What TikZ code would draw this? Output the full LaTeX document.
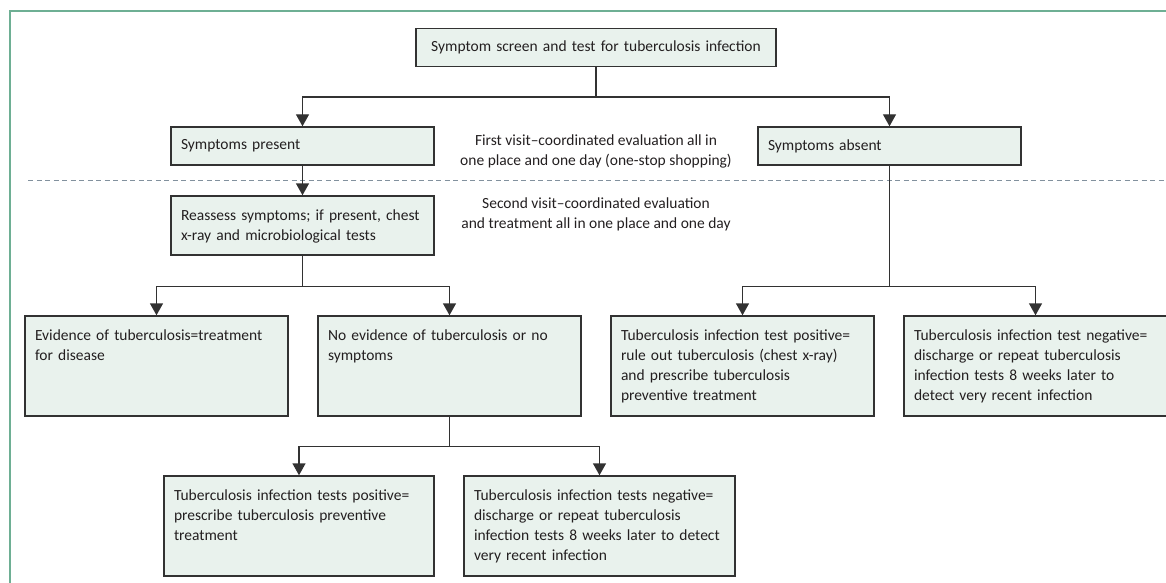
\documentclass[tikz,border=0pt]{standalone}
\usepackage{fontspec}
\setmainfont{Carlito}
\usetikzlibrary{arrows.meta}
\definecolor{boxfill}{RGB}{233,242,237}
\definecolor{boxline}{RGB}{50,50,50}
\definecolor{inktext}{RGB}{35,31,32}
\definecolor{framegreen}{RGB}{110,175,148}
\definecolor{dashgray}{RGB}{130,145,158}
\begin{document}
\begin{tikzpicture}[x=1pt, y=-1pt,
  font=\fontsize{15.5}{20}\selectfont, text=inktext,
  flowbox/.style={draw=boxline, fill=boxfill, line width=1.4pt, inner xsep=10pt, inner ysep=11pt, align=left, text width=243pt},
  onebox/.style={flowbox, minimum height=38pt},
  tallbox/.style={flowbox, text height=13pt, text depth=#1},
  arr/.style={draw=boxline, line width=1.4pt, -{Triangle[length=12pt,width=13pt]}}]
% fix the page size
\useasboundingbox (0,0) rectangle (1166,583);

% outer frame
\draw[framegreen, line width=1.2pt] (10,583) -- (10,11) -- (1166,11);

% split between the two visits
\draw[dashgray, line width=1pt, dash pattern=on 5pt off 3.5pt] (28,180) -- (1166,180);

% visit labels
\node[align=center, inner sep=0pt] (visitA) at (596,151) {First visit–coordinated evaluation all in\\one place and one day (one-stop shopping)};
\node[align=center, inner sep=0pt] (visitB) at (596,214) {Second visit–coordinated evaluation\\and treatment all in one place and one day};

% first visit boxes
\node[onebox, text width=340pt, align=center] (screen) at (596,47.5) {Symptom screen and test for tuberculosis infection};
\node[onebox] (present) at (302.5,146) {Symptoms present};
\node[onebox] (absent) at (889.5,146) {Symptoms absent};

% second visit boxes
\node[tallbox=24pt] (reassess) at (302.5,225.5) {Reassess symptoms; if present, chest\\x-ray and microbiological tests};
\node[tallbox=65pt] (disease) at (156.5,366) {Evidence of tuberculosis=treatment\\for disease};
\node[tallbox=65pt] (nodisease) at (449.5,366) {No evidence of tuberculosis or no\\symptoms};
\node[tallbox=65pt] (testpos) at (742.5,366) {Tuberculosis infection test positive=\\rule out tuberculosis (chest x-ray)\\and prescribe tuberculosis\\preventive treatment};
\node[tallbox=65pt] (testneg) at (1035.5,366) {Tuberculosis infection test negative=\\discharge or repeat tuberculosis\\infection tests 8 weeks later to\\detect very recent infection};
\node[tallbox=65pt, text width=250pt] (testspos) at (299,526) {Tuberculosis infection tests positive=\\prescribe tuberculosis preventive\\treatment};
\node[tallbox=65pt, text width=251pt] (testsneg) at (599.5,526) {Tuberculosis infection tests negative=\\discharge or repeat tuberculosis\\infection tests 8 weeks later to detect\\very recent infection};

% connectors
\draw[arr] (screen.south) -- ++(0,30) -| (present.north);
\draw[arr] (screen.south) -- ++(0,30) -| (absent.north);
\draw[arr] (present.south) -- (reassess.north);
\draw[arr] (reassess.south) -- ++(0,31) -| (disease.north);
\draw[arr] (reassess.south) -- ++(0,31) -| (nodisease.north);
\draw[arr] (absent.south) -- ++(0,121) -| (testpos.north);
\draw[arr] (absent.south) -- ++(0,121) -| (testneg.north);
\draw[arr] (nodisease.south) -- ++(0,30) -| (testspos.north);
\draw[arr] (nodisease.south) -- ++(0,30) -| (testsneg.north);

\end{tikzpicture}
\end{document}
